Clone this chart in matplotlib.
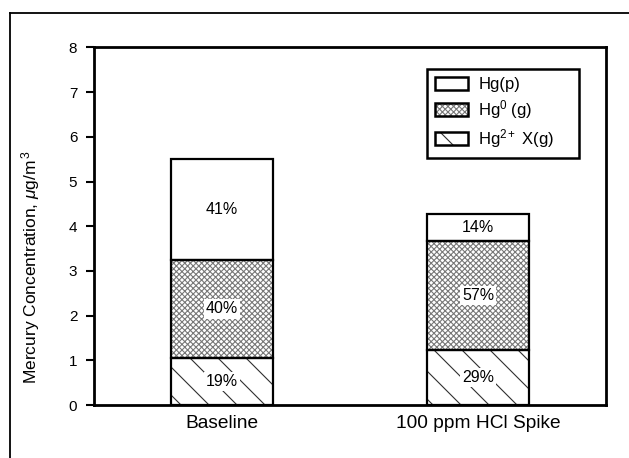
import matplotlib
matplotlib.use('Agg')
import matplotlib.pyplot as plt
from matplotlib.lines import Line2D
from matplotlib.patches import Patch

# Rendered at a high dpi so the diagonal hatch comes out widely spaced;
# sizes below are written as points at 100 dpi and scaled with S.
DPI = 168
S = 100 / DPI

plt.rcParams['font.family'] = ['Liberation Sans', 'DejaVu Sans']
plt.rcParams['mathtext.fontset'] = 'custom'
plt.rcParams['mathtext.rm'] = 'Liberation Sans'
plt.rcParams['mathtext.it'] = 'Liberation Sans:italic'
plt.rcParams['hatch.linewidth'] = 0.8 * S

# Mercury species, ug/m3 (stacked bottom to top)
conditions = ['Baseline', '100 ppm HCl Spike']
hg2x = [1.05, 1.22]   # Hg2+ X(g)
hg0 = [2.20, 2.45]    # Hg0 (g)
hgp = [2.25, 0.60]    # Hg(p)
yticks = [0, 1, 2, 3, 4, 5, 6, 7, 8]

fig = plt.figure(figsize=(629 / DPI, 458 / DPI), dpi=DPI)
ax = fig.add_axes([0.1494, 0.1157, 0.8140, 0.7806])

# outer frame (top and left edges only)
fig.add_artist(Line2D([10/629, 10/629], [0, 1 - 13/458], color='black', lw=1.3 * S))
fig.add_artist(Line2D([10/629, 1], [1 - 13/458, 1 - 13/458], color='black', lw=1.3 * S))

x = [0, 1]
width = 0.40
bottom2 = [a + b for a, b in zip(hg2x, hg0)]

DIAG = '\\\\'
CROSS = 'x' * 10
segments = [
    (hg2x, [0, 0], DIAG, '#303030'),
    (hg0, hg2x, CROSS, '#787878'),
    (hgp, bottom2, None, 'black'),
]
for vals, bots, hatch, hcol in segments:
    if hatch:
        ax.bar(x, vals, width, bottom=bots, color='white', hatch=hatch,
               edgecolor=hcol, linewidth=0, zorder=2)
    ax.bar(x, vals, width, bottom=bots, fill=False, edgecolor='black',
           linewidth=1.6 * S, zorder=3)

# percentage labels in the middle of each segment
totals = [a + b + c for a, b, c in zip(hg2x, hg0, hgp)]
for i in range(len(x)):
    for vals, bots, _, _ in segments:
        pct = round(100 * vals[i] / totals[i])
        ax.text(x[i], bots[i] + vals[i] / 2, f'{pct}%', ha='center', va='center',
                fontsize=11.5 * S, zorder=4,
                bbox=dict(facecolor='white', edgecolor='none', pad=1.5 * S))

ax.set_xlim(-0.5, 1.5)
ax.set_ylim(0, 8)
ax.set_yticks(yticks)
ax.set_xticks(x)
ax.set_xticklabels(conditions, fontsize=13.8 * S)
ax.tick_params(axis='x', length=0, pad=7 * S)
ax.tick_params(axis='y', direction='out', length=6 * S, width=1.5 * S,
               pad=6 * S, labelsize=11 * S)
for sp in ax.spines.values():
    sp.set_linewidth(2 * S)
ax.set_ylabel(r'Mercury Concentration, $\mathit{\mu}$g/m$^{\,3}$', fontsize=12.5 * S)
ax.yaxis.set_label_coords(-0.101, 0.385)

handles = [
    Patch(facecolor='white', edgecolor='black', linewidth=1.8 * S),
    (Patch(facecolor='white', edgecolor='#787878', hatch=CROSS, linewidth=0),
     Patch(facecolor='none', edgecolor='black', linewidth=1.8 * S)),
    (Patch(facecolor='white', edgecolor='#303030', hatch=DIAG, linewidth=0),
     Patch(facecolor='none', edgecolor='black', linewidth=1.8 * S)),
]
labels = ['Hg(p)', r'Hg$^0$ (g)', r'Hg$^{2+}$ X(g)']
leg = ax.legend(handles, labels, loc='upper left', mode='expand',
                bbox_to_anchor=(0.650, 0.940, 0.297, 0),
                borderaxespad=0, fontsize=12 * S, fancybox=False, framealpha=1,
                edgecolor='black', handlelength=2.0, handleheight=0.8,
                labelspacing=0.35, handletextpad=0.6, borderpad=0.5)
leg.get_frame().set_linewidth(1.8 * S)

fig.savefig('out.png', dpi=DPI)
